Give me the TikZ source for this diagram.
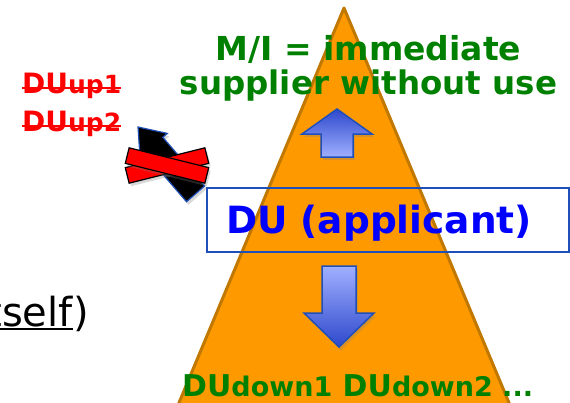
\documentclass[tikz,border=0pt]{standalone}
\usepackage{fontspec}
\setmainfont{DejaVu Sans}
\usetikzlibrary{shadows}
\definecolor{tri}{HTML}{FF9900}
\definecolor{triedge}{HTML}{C07800}
\definecolor{mgreen}{HTML}{008000}
\definecolor{boxblue}{HTML}{1F4FB8}
\definecolor{arrlight}{HTML}{A0B0FF}
\definecolor{arrdark}{HTML}{2E48CC}

\begin{document}
\begin{tikzpicture}[x=1pt,y=-1pt,
  lbl/.style={inner sep=0pt},
  softshadow/.style={drop shadow={shadow xshift=2pt, shadow yshift=-3pt, opacity=0.3}},
  blockarrow/.style={draw=boxblue, line width=1.5pt, line join=miter, softshadow},
  xbar/.style={rectangle, fill=red, draw=black, line width=1.2pt, minimum width=82pt,
    minimum height=16pt, inner sep=0pt, softshadow},
  strike/.style={red, line width=2.5pt},
  ]
\useasboundingbox (0,0) rectangle (570,402);
\clip (0,0) rectangle (570,402);

% supply chain triangle
\draw[fill=tri, draw=triedge, line width=3pt, line join=round]
  (344,8) -- (516.2,420) -- (171.8,420) -- cycle;

% upward block arrow
\path[blockarrow, top color=arrdark, bottom color=arrlight]
  (337,109) -- (372,134) -- (353,134) -- (353,157) -- (321,157) -- (321,134) -- (302,134) -- cycle;

% downward block arrow
\path[blockarrow, top color=arrlight, bottom color=arrdark]
  (322,266) -- (356,266) -- (356,313) -- (374,313) -- (339,347) -- (304,313) -- (322,313) -- cycle;

% applicant box
\node[draw=boxblue, line width=2pt, minimum width=362pt, minimum height=64pt,
  inner sep=0pt, anchor=north west] (box) at (206,187) {};
\node[lbl, text=blue, font=\bfseries\fontsize{37.5}{40}\selectfont, anchor=base]
  (applicant) at (379,233) {DU (applicant)};

% heading
\node[lbl, text=mgreen, font=\bfseries\fontsize{33}{35}\selectfont, anchor=base]
  (mi1) at (368.5,60) {M/I = immediate};
\node[lbl, text=mgreen, font=\bfseries\fontsize{32.5}{35}\selectfont, anchor=base]
  (mi2) at (368.5,94) {supplier without use};

% downstream users
\node[lbl, text=mgreen, font=\bfseries\fontsize{30}{34}\selectfont, anchor=base west]
  (down) at (182,396)
  {DU{\fontsize{27}{30}\selectfont down1} DU{\fontsize{27}{30}\selectfont down2 ...}};

% upstream users, struck out
\node[lbl, text=red, font=\bfseries\fontsize{28}{30}\selectfont, anchor=base west]
  (up1) at (22,93) {DU{\fontsize{25}{27}\selectfont up1}};
\node[lbl, text=red, font=\bfseries\fontsize{28}{30}\selectfont, anchor=base west]
  (up2) at (22,131) {DU{\fontsize{25}{27}\selectfont up2}};
\draw[strike] ([yshift=5pt]up1.base west) -- ([yshift=5pt]up1.base east);
\draw[strike] ([yshift=5pt]up2.base west) -- ([yshift=5pt]up2.base east);

% "itself" fragment
\node[lbl, font=\fontsize{40}{44}\selectfont, anchor=base east] (paren) at (89,326) {)};
\node[lbl, font=\fontsize{40}{44}\selectfont, anchor=base east] (self) at (paren.base west) {tself};
\draw[line width=2.5pt] ([yshift=-3pt]self.base west) -- ([yshift=-3pt]self.base east);

% crossed-out upward arrow
\path[draw=boxblue, fill=black, line width=1.2pt, line join=miter, softshadow]
  (138,127) -- (167.4,133.4) -- (162.8,137.3) -- (204.7,185.9)
  -- (186.5,201.7) -- (144.6,153.1) -- (140.0,157.0) -- cycle;
\node[xbar, rotate=14] (xrise) at (167,165.5) {};
\node[xbar, rotate=-14] (xfall) at (167,165.5) {};
\end{tikzpicture}
\end{document}
